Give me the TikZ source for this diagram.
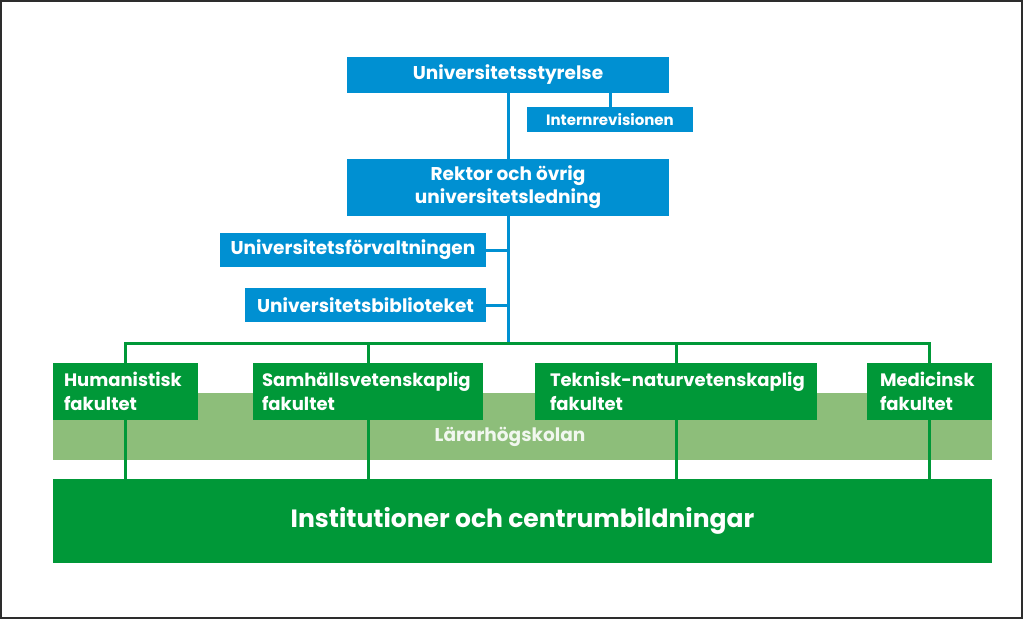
\documentclass[tikz,border=0pt]{standalone}
\usepackage{fontspec}
\setmainfont{Poppins}
\definecolor{uublue}{RGB}{0,144,210}
\definecolor{uugreen}{RGB}{0,152,56}
\definecolor{uulight}{RGB}{141,190,122}
\definecolor{framegray}{RGB}{45,45,45}
\begin{document}
\begin{tikzpicture}[x=1pt,y=-1pt,
  bluebox/.style={fill=uublue,text=white,font=\bfseries\fontsize{18.5}{23}\selectfont,inner sep=0pt,align=center},
  facbox/.style={fill=uugreen,text=white,font=\bfseries\fontsize{18}{24}\selectfont,inner ysep=0pt,align=left,minimum height=57pt},
  blueline/.style={draw=uublue,line width=3pt},
  greenline/.style={draw=uugreen,line width=3pt}]
\useasboundingbox (0,0) rectangle (1023,619);
\draw[framegray,line width=2pt] (1,1) rectangle (1022,618);
% band
\fill[uulight] (53,393) rectangle (992,460);
\node[text=white!88!uulight,font=\bfseries\fontsize{18.5}{22}\selectfont] (lhs) at (510,437) {Lärarhögskolan};
% blue boxes
\node[bluebox,minimum width=322pt,minimum height=36pt] (styr) at (508,75) {Universitetsstyrelse};
\node[bluebox,minimum width=166pt,minimum height=25pt,font=\bfseries\fontsize{15}{17}\selectfont] (intern) at (610,119.5) {Internrevisionen};
\node[bluebox,minimum width=322pt,minimum height=57pt] (rektor) at (508,187.5) {Rektor och övrig\\universitetsledning};
\node[bluebox,minimum width=266pt,minimum height=34pt] (forv) at (353,250) {Universitetsförvaltningen};
\node[bluebox,minimum width=241pt,minimum height=34pt] (bibl) at (365.5,305) {Universitetsbiblioteket};
\coordinate (bus) at (508,343);
% blue connectors
\draw[blueline] (styr.south) -- (rektor.north);
\draw[blueline] (rektor.south) -- (bus);
\draw[blueline] (intern.north) -- (intern.north |- styr.south);
\draw[blueline] (forv.east) -- (forv.east -| bus);
\draw[blueline] (bibl.east) -- (bibl.east -| bus);
% faculties
\node[facbox,inner xsep=11pt,text width=123pt] (hum) at (125.5,391.5) {Humanistisk\\fakultet};
\node[facbox,inner xsep=9pt,text width=212pt] (sam) at (368,391.5) {Samhällsvetenskaplig\\fakultet};
\node[facbox,inner xsep=15pt,text width=252pt] (tek) at (676,391.5) {\mbox{Teknisk-naturvetenskaplig}\\fakultet};
\node[facbox,inner xsep=13pt,text width=99pt] (med) at (929.5,391.5) {Medicinsk\\fakultet};
% institutions
\node[fill=uugreen,text=white,font=\bfseries\fontsize{25}{30}\selectfont,minimum width=939pt,minimum height=84pt,inner sep=0pt] (inst) at (522.5,521) {Institutioner och centrumbildningar};
% green connectors
\draw[greenline] (hum.north) -- (hum.north |- bus) -- (med.north |- bus) -- (med.north);
\draw[greenline] (sam.north) -- (sam.north |- bus);
\draw[greenline] (tek.north) -- (tek.north |- bus);
\draw[greenline] (hum.south) -- (hum.south |- inst.north);
\draw[greenline] (sam.south) -- (sam.south |- inst.north);
\draw[greenline] (tek.south) -- (tek.south |- inst.north);
\draw[greenline] (med.south) -- (med.south |- inst.north);
\end{tikzpicture}
\end{document}
